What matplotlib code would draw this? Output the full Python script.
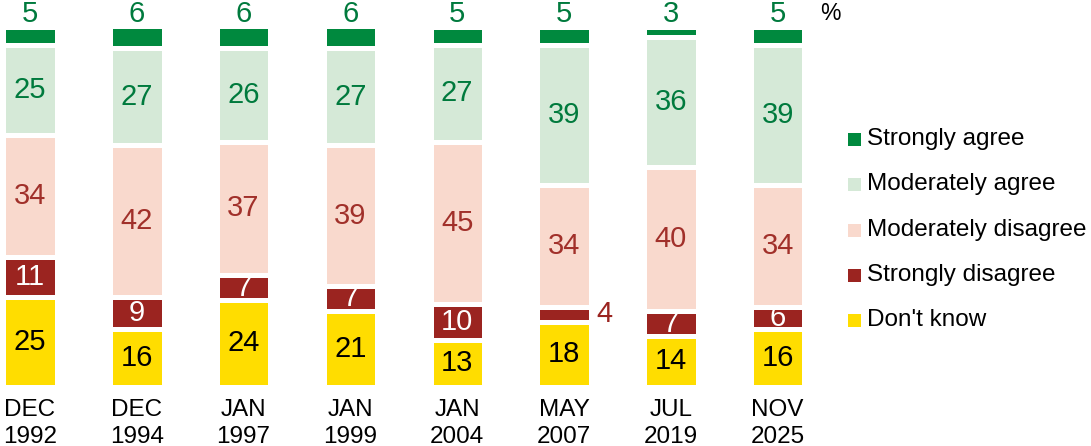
import matplotlib
matplotlib.use("Agg")
import matplotlib.pyplot as plt
from matplotlib.patches import Rectangle
import numpy as np

plt.rcParams['font.family'] = ['Liberation Sans', 'DejaVu Sans']

categories = ["DEC\n1992", "DEC\n1994", "JAN\n1997", "JAN\n1999", "JAN\n2004", "MAY\n2007", "JUL\n2019", "NOV\n2025"]
series_names = ["Strongly agree", "Moderately agree", "Moderately disagree", "Strongly disagree", "Don't know"]
strongly_agree = [5, 6, 6, 6, 5, 5, 3, 5]
moderately_agree = [25, 27, 26, 27, 27, 39, 36, 39]
moderately_disagree = [34, 42, 37, 39, 45, 34, 40, 34]
strongly_disagree = [11, 9, 7, 7, 10, 4, 7, 6]
dont_know = [25, 16, 24, 21, 13, 18, 14, 16]

colors = {
    "Strongly agree": "#00893E",
    "Moderately agree": "#D5E9D7",
    "Moderately disagree": "#F9D9CD",
    "Strongly disagree": "#9B2420",
    "Don't know": "#FFDD00",
}
text_colors = {
    "Strongly agree": "#007A3D",
    "Moderately agree": "#007A3D",
    "Moderately disagree": "#A1302A",
    "Strongly disagree": "white",
    "Don't know": "black",
}

W, H = 1091, 446
fig = plt.figure(figsize=(W / 100, H / 100), dpi=100)
ax = fig.add_axes([0, 59.5 / H, 1, 360 / H])
ax.set_ylim(0, 100)
px = 106.8
ax.set_xlim(-30 / px, (W - 30) / px)
ax.axis('off')

NUM_FS = 21
x = np.arange(len(categories))
stack = [("Don't know", dont_know), ("Strongly disagree", strongly_disagree),
         ("Moderately disagree", moderately_disagree), ("Moderately agree", moderately_agree),
         ("Strongly agree", strongly_agree)]
bottom = np.zeros(len(categories))
for name, vals in stack:
    vals = np.array(vals, dtype=float)
    ax.bar(x, vals, bottom=bottom, width=0.5, color=colors[name],
           edgecolor='white', linewidth=3.6)
    for i, v in enumerate(vals):
        if name == "Strongly agree":
            ax.annotate(f"{int(v)}", (x[i], 100), xytext=(0, 3.4), textcoords='offset points',
                        ha='center', va='baseline', fontsize=NUM_FS, color=text_colors[name])
        elif v < 5:
            ax.annotate(f"{int(v)}", (x[i] + 0.25, bottom[i] + v / 2), xytext=(4, 0),
                        textcoords='offset points', ha='left', va='center', fontsize=NUM_FS,
                        color=colors[name])
        else:
            ax.text(x[i], bottom[i] + v / 2, f"{int(v)}", ha='center', va='center',
                    fontsize=NUM_FS, color=text_colors[name])
    bottom += vals

for i, c in enumerate(categories):
    l1, l2 = c.split("\n")
    ax.annotate(l1, (x[i], 0), xytext=(0, -22.5 * 0.75), textcoords='offset points',
                ha='center', va='center', fontsize=17.5, color='black')
    ax.annotate(l2, (x[i], 0), xytext=(0, -48.5 * 0.75), textcoords='offset points',
                ha='center', va='center', fontsize=17.5, color='black')

fig.text(820 / W, 1 - 13 / H, "%", fontsize=16.5, ha='left', va='center')

leg_y = [139.5, 184.5, 230, 275.5, 320]
for name, yy in zip(series_names, leg_y):
    fig.add_artist(Rectangle((848 / W, 1 - (yy + 6.5) / H), 13 / W, 13 / H,
                             transform=fig.transFigure, facecolor=colors[name], edgecolor='none'))
    fig.text(867 / W, 1 - yy / H, name, fontsize=17.5, ha='left', va='center', color='black')

fig.savefig("out.png", dpi=100)
